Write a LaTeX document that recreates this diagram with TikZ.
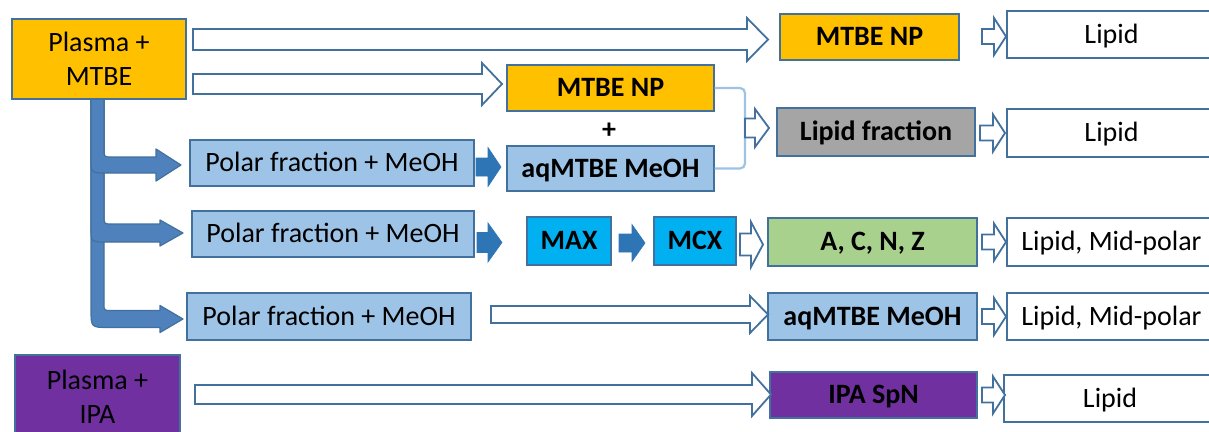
\documentclass[tikz,border=0pt]{standalone}
\usepackage{fontspec}
\setmainfont{Carlito}
\definecolor{gold}{HTML}{FFC000}
\definecolor{lblue}{HTML}{9DC3E6}
\definecolor{lgray}{HTML}{A5A5A5}
\definecolor{cyanb}{HTML}{00B0F0}
\definecolor{lgreen}{HTML}{A9D18E}
\definecolor{purp}{HTML}{7030A0}
\definecolor{bordc}{HTML}{41719C}
\definecolor{bentc}{HTML}{4F81BD}
\definecolor{darkb}{HTML}{2E75B6}
\newcommand\barrow[7]{\draw[#1] (#2,{#4-#5}) -- ({#3-#7},{#4-#5}) -- ({#3-#7},{#4-#6}) -- (#3,#4) -- ({#3-#7},{#4+#6}) -- ({#3-#7},{#4+#5}) -- (#2,{#4+#5}) -- cycle;}
\newcommand\bentarrow[7]{\draw[bent] (91,99) -- (91,{#1+#2-#6}) .. controls (91,{#1+#2}) .. ({91+#6},{#1+#2}) -- (#4,{#1+#2}) -- (#4,{#1+#3}) -- (#5,#1) -- (#4,{#1-#3}) -- (#4,{#1-#2}) -- ({104+#7},{#1-#2}) .. controls (104,{#1-#2}) .. (104,{#1-#2-#7}) -- (104,99) -- cycle;}
\tikzset{
  box/.style={draw=bordc, line width=1.3pt, inner sep=0pt, align=center, font=\fontsize{28}{34}\selectfont},
  one/.style={text height=17.8pt, text depth=0pt},
  rbox/.style={box, one},
  bbox/.style={box, one, font=\fontsize{28}{34}\selectfont\bfseries},
  hollow/.style={draw=bordc, line width=1.8pt, fill=white, line join=miter},
  solidarr/.style={draw=darkb, line width=0.6pt, fill=darkb, line join=miter},
  bent/.style={draw=bordc, line width=1.2pt, fill=bentc, line join=round},
  lightline/.style={draw=lblue, line width=2.2pt, rounded corners=5pt},
}
\begin{document}
\begin{tikzpicture}[x=1pt,y=-1pt]
\useasboundingbox (0,0) rectangle (1209,431);
\clip (0,0) rectangle (1209,431);
% bent arrows from Plasma + MTBE
\bentarrow{319}{8.5}{13.5}{160}{183}{18}{7}
\bentarrow{233}{9}{13}{160}{183}{15}{8}
\bentarrow{165}{8}{16}{156}{181}{15}{8}
% boxes
\node[box, fill=gold, minimum width=174pt, minimum height=80pt] (pm) at (99,59) {Plasma +\\MTBE};
\node[bbox, fill=gold, minimum width=179pt, minimum height=46pt] (np1) at (869.5,37) {MTBE NP};
\node[rbox, fill=white, minimum width=209pt, minimum height=47pt] (lip1) at (1111.5,34.5) {Lipid};
\node[bbox, fill=gold, minimum width=207pt, minimum height=46pt] (np2) at (610.5,88) {MTBE NP};
\node[font=\fontsize{28}{34}\selectfont\bfseries, inner sep=0pt] (plus) at (609,131) {+};
\node[bbox, fill=lblue, minimum width=207pt, minimum height=45pt] (aq1) at (610.5,168.5) {aqMTBE MeOH};
\node[bbox, fill=lgray, minimum width=198pt, minimum height=48pt] (lf) at (876,132) {Lipid fraction};
\node[rbox, fill=white, minimum width=209pt, minimum height=48pt] (lip2) at (1111.5,133) {Lipid};
\node[rbox, fill=lblue, minimum width=284pt, minimum height=46pt] (pf1) at (332,163) {Polar fraction + MeOH};
\node[rbox, fill=lblue, minimum width=282pt, minimum height=46pt] (pf2) at (333,234) {Polar fraction + MeOH};
\node[bbox, fill=cyanb, minimum width=84pt, minimum height=48pt] (max) at (569,241) {MAX};
\node[bbox, fill=cyanb, minimum width=82pt, minimum height=48pt] (mcx) at (695,241) {MCX};
\node[bbox, fill=lgreen, minimum width=209pt, minimum height=48pt] (acnz) at (872.5,242) {A, C, N, Z};
\node[rbox, fill=white, minimum width=209pt, minimum height=48pt] (lmp1) at (1111.5,242) {Lipid, Mid-polar};
\node[rbox, fill=lblue, minimum width=284pt, minimum height=47pt] (pf3) at (329,316.5) {Polar fraction + MeOH};
\node[bbox, fill=lblue, minimum width=209pt, minimum height=47pt] (aq2) at (872.5,316.5) {aqMTBE MeOH};
\node[rbox, fill=white, minimum width=209pt, minimum height=47pt] (lmp2) at (1111.5,316.5) {Lipid, Mid-polar};
\node[box, fill=purp, minimum width=165pt, minimum height=84pt] (pi) at (97.5,397) {Plasma +\\IPA};
\node[bbox, fill=purp, minimum width=207pt, minimum height=46pt] (ipa) at (873.5,395) {IPA SpN};
\node[rbox, fill=white, minimum width=212pt, minimum height=47pt] (lip3) at (1110,398.5) {Lipid};
% bracket joining MTBE NP and aqMTBE MeOH
\draw[lightline] (np2.east) -- (745,88) -- (745,168.5) -- (aq1.east);
% hollow block arrows
\barrow{hollow}{193}{768}{39.5}{10.5}{21.5}{21}
\barrow{hollow}{193}{502}{84}{10}{21}{20}
\barrow{hollow}{745}{769}{128}{9.5}{19}{14}
\barrow{hollow}{491}{768}{314.5}{8.5}{18.5}{18}
\barrow{hollow}{195}{771}{394.5}{9.5}{21.5}{19}
\barrow{hollow}{740}{763}{244.5}{11}{22.5}{12}
\barrow{hollow}{982}{1006}{36.5}{7.5}{18.5}{12}
\barrow{hollow}{980}{1005}{133}{7.5}{18.5}{12}
\barrow{hollow}{982}{1006}{242}{7.5}{18.5}{12}
\barrow{hollow}{982}{1006}{316.5}{7.5}{18.5}{12}
\barrow{hollow}{982}{1005}{395}{7.5}{18.5}{12}
% solid block arrows
\barrow{solidarr}{476}{501}{167}{9}{19.5}{13}
\barrow{solidarr}{477}{502}{242.5}{10}{19.5}{14}
\barrow{solidarr}{619}{645}{243}{9}{18.5}{13}
\end{tikzpicture}
\end{document}
